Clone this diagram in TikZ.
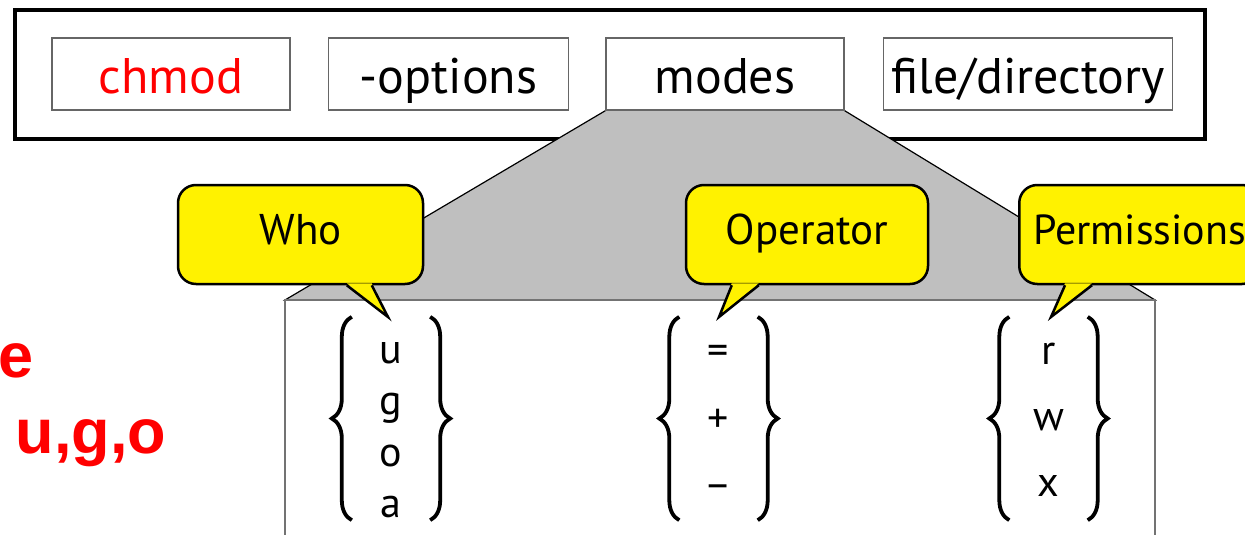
\documentclass[tikz,border=0pt]{standalone}
\usepackage{fontspec}
\setmainfont{PT Sans}
\newfontfamily\arialfont{Liberation Sans}
\usetikzlibrary{positioning,decorations.pathreplacing,backgrounds}

\newcommand\tail[4]{%
  \fill[yellow] ([xshift=#2pt,yshift=2pt]#1.south west) -- (#4) -- ([xshift=#3pt,yshift=2pt]#1.south west) -- cycle;
  \draw[line width=2.5pt] ([xshift=#2pt]#1.south west) -- (#4) -- ([xshift=#3pt]#1.south west);}

\begin{document}
\begin{tikzpicture}[x=1pt,y=-1pt,
  part/.style={draw=black!60,line width=1.5pt,fill=white,minimum width=238pt,minimum height=72pt,inner sep=0pt,text height=48pt,text depth=10pt,font=\fontsize{50}{52}\selectfont},
  bubble/.style={draw=black,line width=2.5pt,fill=yellow,rounded corners=18pt,minimum height=99pt,text height=30pt,text depth=10pt,font=\fontsize{43}{46}\selectfont},
  column/.style={minimum width=78pt,minimum height=203pt,inner sep=0pt},
  letters/.style={align=center,inner sep=0pt},
  curly/.style={decorate,decoration={brace,amplitude=20pt},line width=3.8pt},
  remark/.style={text=red,font=\fontsize{63}{68}\selectfont\arialfont\bfseries}]
  \useasboundingbox (0,0) rectangle (1245,535);
  \clip (0,0) rectangle (1245,535);

  % command line
  \node[part,text=red] (chmod) at (171,74) {chmod};
  \node[part,minimum width=240pt,right=37pt of chmod] (options) {-options};
  \node[part,right=36pt of options] (modes) {modes};
  \node[part,minimum width=289pt,right=38pt of modes] (target) {file/directory};

  \begin{pgfonlayer}{background}
    \draw[line width=4.5pt] (15,10) rectangle (1205,139);
    \filldraw[fill=black!25,draw=black,line width=1.2pt] (modes.south west) -- (285,300) -- (1155,300) -- (modes.south east);
  \end{pgfonlayer}

  % expanded modes
  \draw[draw=black!55,line width=2pt,fill=white] (285,300) rectangle (1155,560);
  \node[column] (who set) at (391,418.5) {};
  \node[column] (op set) at (718.5,418.5) {};
  \node[column] (perm set) at (1048.5,418.5) {};
  \node[letters,font=\fontsize{42}{51.5}\selectfont] (who letters) at (391,430) {u\\g\\o\\a};
  \node[letters,font=\fontsize{42}{68}\selectfont] (op letters) at (718.5,423) {=\\+\\−};
  \node[letters,font=\fontsize{42}{66}\selectfont] (perm letters) at (1048.5,419.5) {r\\w\\x};
  \foreach \s in {who set,op set,perm set} {
    \draw[curly] (\s.south west) -- (\s.north west);
    \draw[curly] (\s.north east) -- (\s.south east);
  }

  % callouts
  \node[bubble,minimum width=245pt] (who) at (300.5,234.5) {Who};
  \node[bubble,minimum width=242pt] (operator) at (807,234.5) {Operator};
  \node[bubble,anchor=west,inner xsep=14pt,font=\fontsize{42}{46}\selectfont] (perms) at (1018,234.5) {Permissions};
  \coordinate (who tip) at (388,317);
  \coordinate (operator tip) at (719,317);
  \coordinate (perms tip) at (1051,317);
  \tail{who}{170}{195}{who tip}
  \tail{operator}{47}{74}{operator tip}
  \tail{perms}{47}{74}{perms tip}

  \node[remark,anchor=base east] (word end) at (37,377) {e};
  \node[remark,anchor=base west] (ugo) at (12,453) {u,g,o};
\end{tikzpicture}
\end{document}
